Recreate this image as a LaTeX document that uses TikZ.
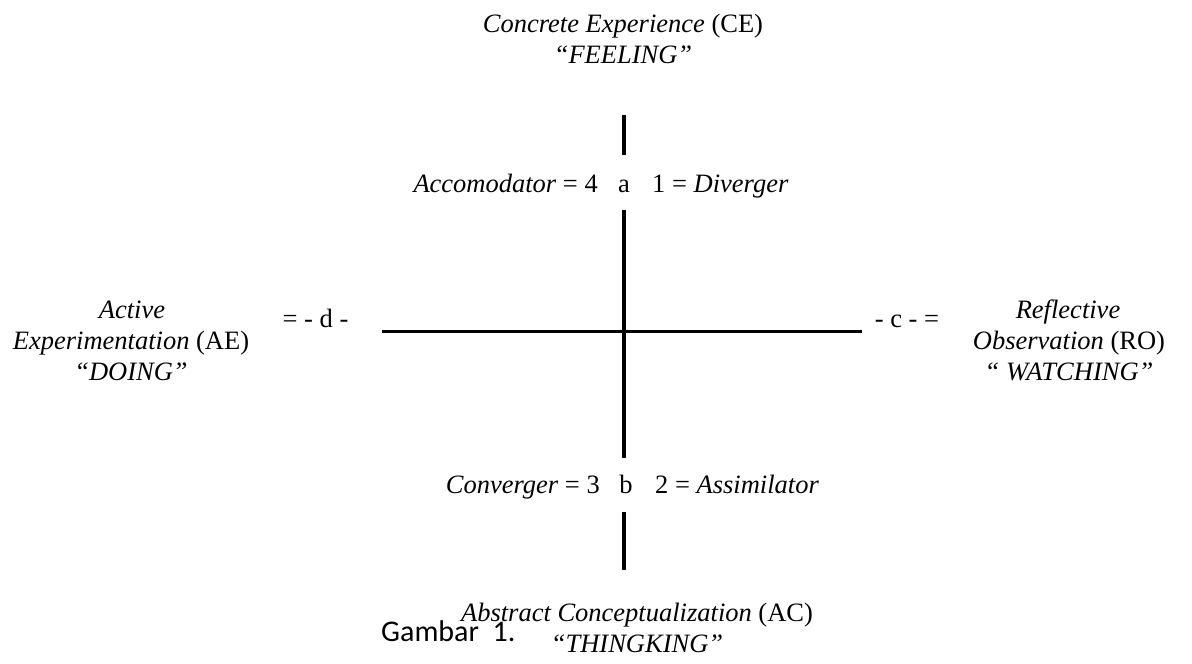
\documentclass[tikz,border=0pt]{standalone}
\usepackage{fontspec}
\setmainfont{Liberation Serif}
\newfontfamily\calib{Carlito}
\begin{document}
\begin{tikzpicture}[x=1pt,y=-1pt,
  lbl/.style={inner sep=0pt,anchor=base,font=\fontsize{26.5}{31}\selectfont},
  axis/.style={line width=3.8pt}]
\useasboundingbox (0,0) rectangle (1192,664);
% axis segments
\coordinate (t1) at (624,115);
\coordinate (t2) at (624,155);
\coordinate (m1) at (624,210);
\coordinate (m2) at (624,458);
\coordinate (b1) at (624,512);
\coordinate (b2) at (624,570);
\coordinate (l) at (382,331.5);
\coordinate (r) at (862,331.5);
\draw[axis] (t1) -- (t2);
\draw[axis] (m1) -- (m2);
\draw[axis] (b1) -- (b2);
\draw[axis] (l) -- (r);
% pole labels
\node[lbl] (ce1) at (623,32) {\textit{Concrete Experience} (CE)};
\node[lbl] (ce2) at (623,63) {\textit{``FEELING''}};
\node[lbl] (ae1) at (132,318) {\textit{Active}};
\node[lbl] (ae2) at (131,349) {\textit{Experimentation} (AE)};
\node[lbl] (ae3) at (131,380) {\textit{``DOING''}};
\node[lbl] (ro1) at (1068,318) {\textit{Reflective}};
\node[lbl] (ro2) at (1069,349) {\textit{Observation} (RO)};
\node[lbl] (ro3) at (1069,380) {\textit{`` WATCHING''}};
\node[lbl] (ac1) at (637,621) {\textit{Abstract Conceptualization} (AC)};
\node[lbl] (ac2) at (637,652) {\textit{``THINGKING''}};
% quadrant labels
\node[lbl] (a) at (624,192) {a};
\node[lbl,anchor=base east] (acc) at (598,192) {\textit{Accomodator} = 4};
\node[lbl,anchor=base west] (div) at (652,192) {1 = \textit{Diverger}};
\node[lbl] (b) at (626,493) {b};
\node[lbl,anchor=base east] (con) at (600,493) {\textit{Converger} = 3};
\node[lbl,anchor=base west] (ass) at (655,493) {2 = \textit{Assimilator}};
\node[lbl] (d) at (315.5,327) {= - d -};
\node[lbl] (c) at (907,327) {- c - =};
\node[inner sep=0pt,anchor=base west,font=\calib\fontsize{30}{34}\selectfont] (cap) at (381,641) {Gambar\ \ 1.};
\end{tikzpicture}
\end{document}
